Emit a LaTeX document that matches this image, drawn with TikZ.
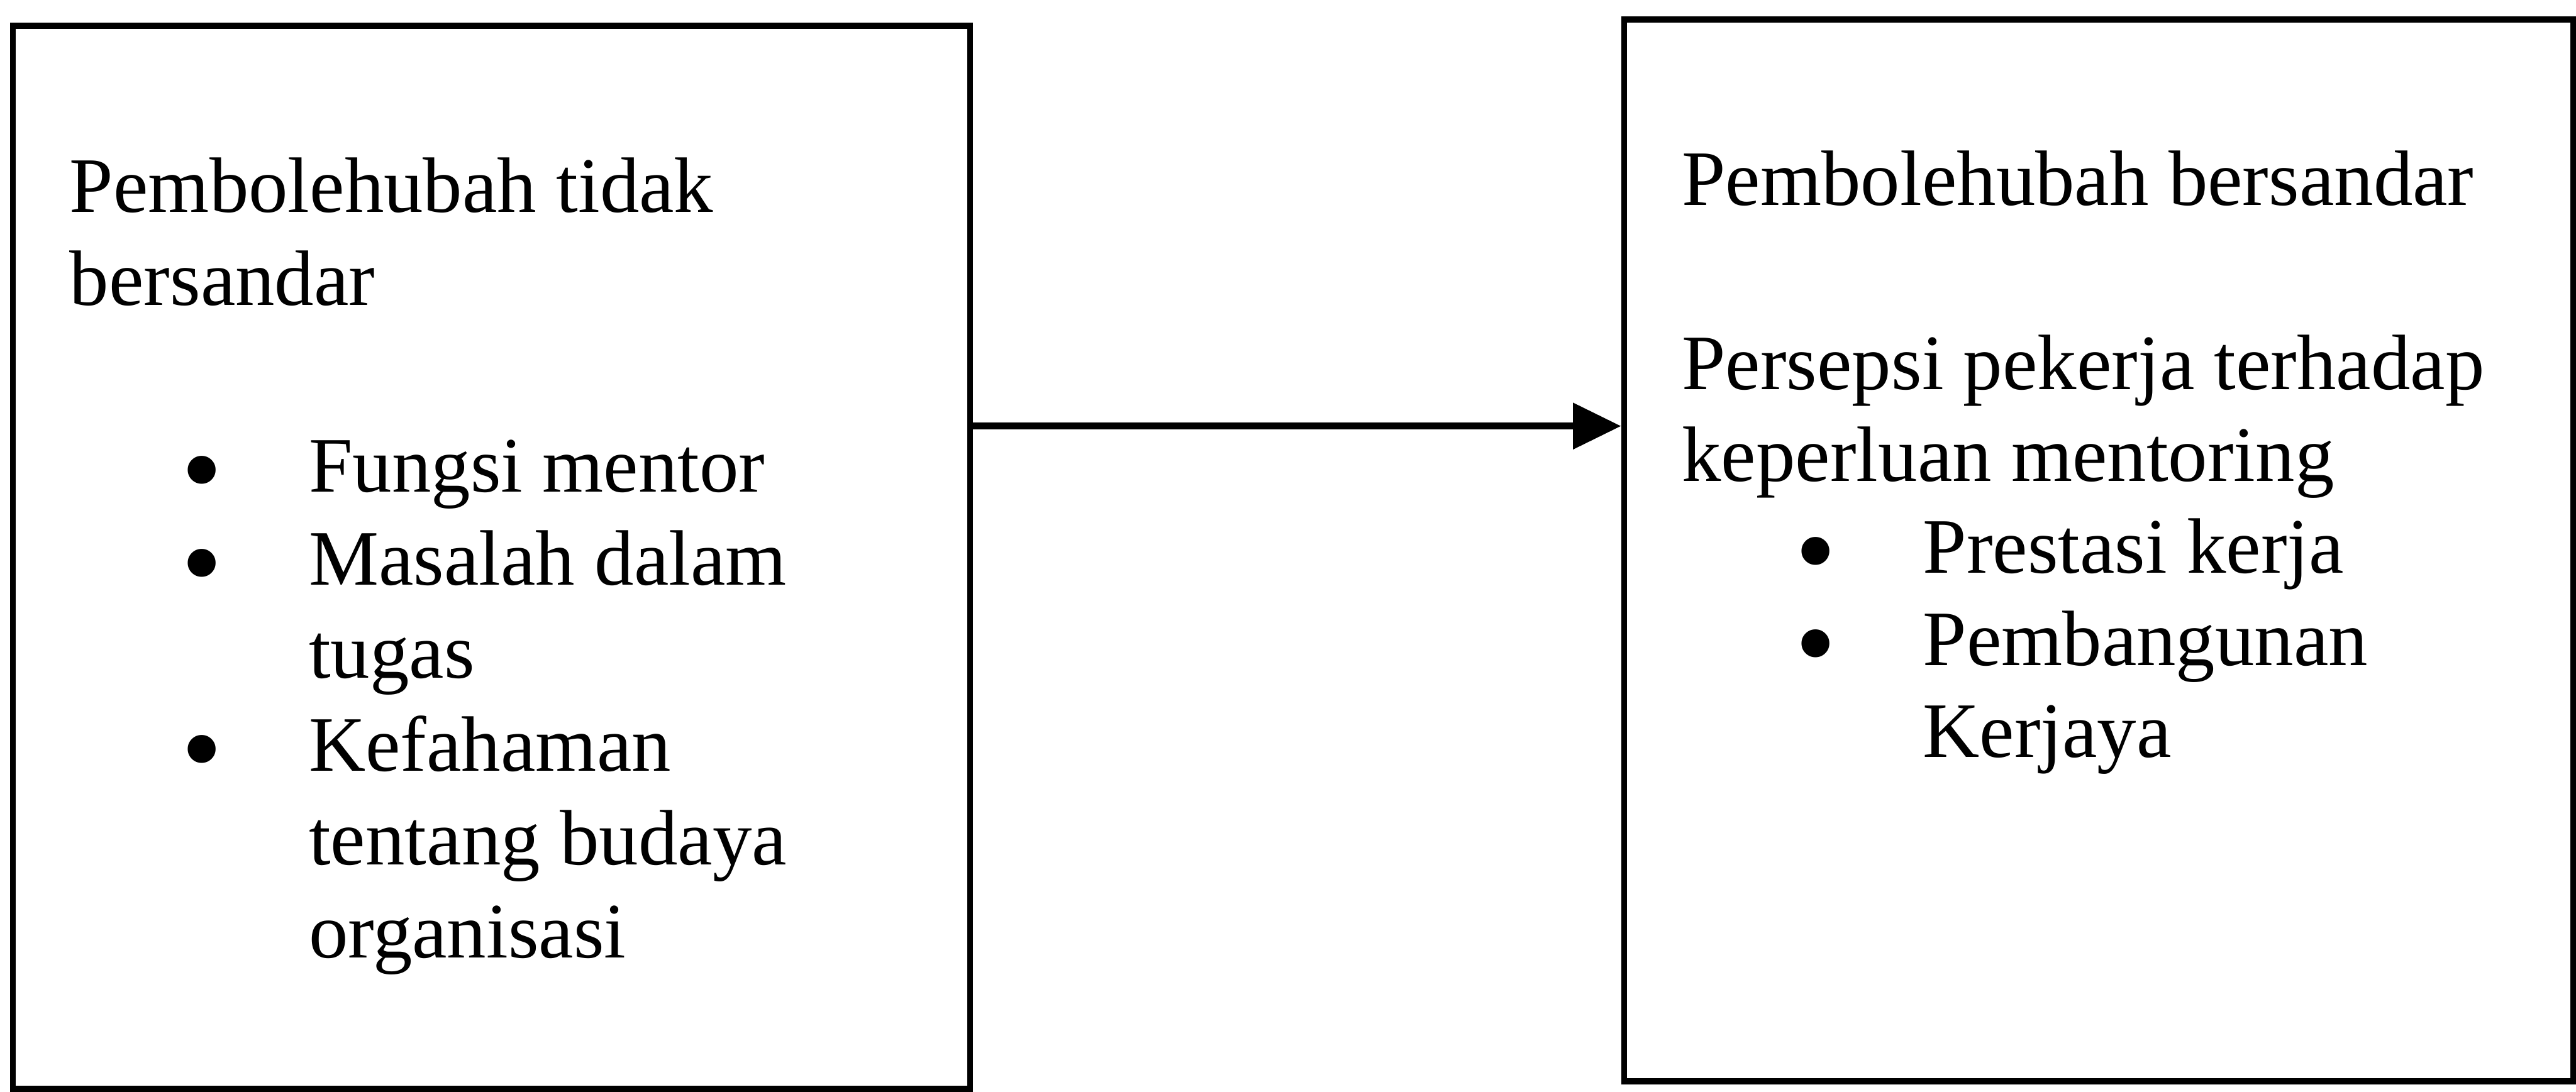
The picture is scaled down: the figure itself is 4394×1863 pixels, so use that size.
\documentclass[tikz,border=0pt]{standalone}
\usepackage{fontspec}
\setmainfont{Liberation Serif}
\usepackage{tikz}
\usetikzlibrary{positioning,arrows.meta}

\begin{document}
\begin{tikzpicture}[x=0.1pt, y=-0.1pt,
    font=\fontsize{13.4pt}{15.9pt}\selectfont,
    varbox/.style={draw, line width=1pt, inner sep=0pt},
    txt/.style={anchor=base west, inner sep=0pt},
    dot/.style={anchor=base, inner sep=0pt, font=\fontsize{20pt}{20pt}\selectfont},
    link/.style={line width=1.15pt, -{Triangle[length=8.2pt,width=7.7pt]}}]
  \useasboundingbox (0,0) rectangle (4394,1863);
  % Boxes
  \node[varbox, minimum width=163.3pt, minimum height=181.4pt] (ivbox) at (838.5,951) {};
  \node[varbox, minimum width=161.9pt, minimum height=181.2pt] (dvbox) at (3579.5,939) {};
  % Left box text
  \node[txt] (iv1) at (117,362) {Pembolehubah tidak};
  \node[txt] (iv2) at (117,521) {bersandar};
  \node[dot] (ivb1) at (345,868) {\textbullet};
  \node[txt] (iv3) at (525,839) {Fungsi mentor};
  \node[dot] (ivb2) at (345,1027) {\textbullet};
  \node[txt] (iv4) at (525,998) {Masalah dalam};
  \node[txt] (iv5) at (525,1157) {tugas};
  \node[dot] (ivb3) at (345,1345) {\textbullet};
  \node[txt] (iv6) at (525,1316) {Kefahaman};
  \node[txt] (iv7) at (525,1475) {tentang budaya};
  \node[txt] (iv8) at (525,1634) {organisasi};
  % Right box text
  \node[txt] (dv1) at (2867,350) {Pembolehubah bersandar};
  \node[txt] (dv2) at (2867,664) {Persepsi pekerja terhadap};
  \node[txt] (dv3) at (2867,821) {keperluan mentoring};
  \node[dot] (dvb1) at (3097,1007) {\textbullet};
  \node[txt] (dv4) at (3278,978) {Prestasi kerja};
  \node[dot] (dvb2) at (3097,1164) {\textbullet};
  \node[txt] (dv5) at (3278,1135) {Pembangunan};
  \node[txt] (dv6) at (3278,1292) {Kerjaya};
  % Arrow
  \coordinate (lvl) at (0,727);
  \draw[link] (ivbox.east |- lvl) -- (dvbox.west |- lvl);
\end{tikzpicture}
\end{document}
